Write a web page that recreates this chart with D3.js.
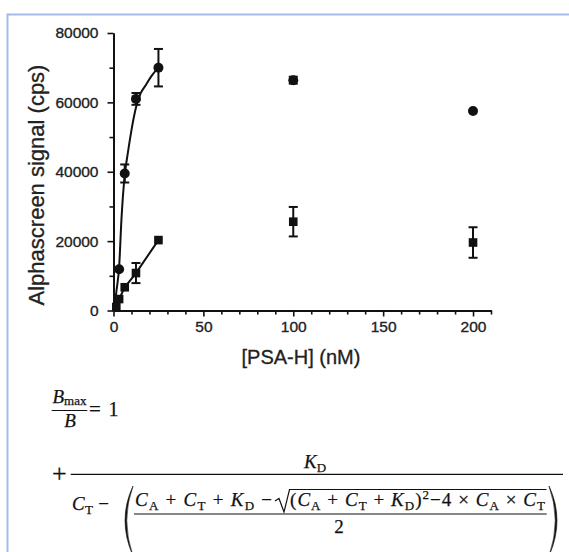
<!DOCTYPE html>
<html>
<head>
<meta charset="utf-8">
<script src="https://cdn.jsdelivr.net/npm/d3@7"></script>
<style>
  body { margin: 0; background: #fff; }
  svg { display: block; }
</style>
</head>
<body>
<svg id="chart" width="569" height="552"></svg>
<script>
// ---------------- DATA ----------------
// circles: fitted series
const doseA = [3.125, 6.25, 12.5, 25, 100, 200];
const signalA = [11900, 39500, 61000, 70000, 66400, 57500];
const errA = [0, 2600, 1700, 5400, 1000, 0];

// squares: connected series
const doseB = [1.56, 3.125, 6.25, 12.5, 25, 100, 200];
const signalB = [1000, 3300, 6700, 10800, 20300, 25600, 19600];
const errB = [0, 0, 0, 2900, 0, 4250, 4400];
const lineEndB = 25; // line only joins points up to 25 nM

// fitted curve
const fitDose = [0.6, 1.5, 3.125, 4.5, 6.25, 8, 10, 12.5, 15, 18, 21, 25];
const fitSignal = [0, 5000, 12500, 27000, 39000, 45500, 52000, 58500, 62500, 65000, 67500, 70000];

const xMajor = [0, 50, 100, 150, 200];
const yMajor = [0, 20000, 40000, 60000, 80000];

const svg = d3.select("#chart");

// light blue frame
svg.append("path")
  .attr("d", "M7.5,552 L7.5,14.5 L569,14.5")
  .attr("fill", "none")
  .attr("stroke", "#a3bbe8")
  .attr("stroke-width", 2);

// ---------------- SCALES ----------------
const x = d3.scaleLinear().domain([0, 210]).range([113.5, 491]);
const y = d3.scaleLinear().domain([0, 80000]).range([310.5, 33]);

const plot = svg.append("g");

// ---------------- AXES ----------------
const minorX = d3.range(10, 211, 10).filter(v => v % 50 !== 0);
const minorY = [10000, 30000, 50000, 70000];

function styleAxis(g) {
  g.select(".domain").attr("stroke", "#111").attr("stroke-width", 2);
  g.selectAll(".tick line").attr("stroke", "#111").attr("stroke-width", 1.6);
  g.selectAll(".tick text")
    .attr("fill", "#222")
    .attr("stroke", "#222")
    .attr("stroke-width", 0.35)
    .style("font-family", "'Liberation Sans', Arial, sans-serif")
    .style("font-size", "15.5px");
}

plot.append("g")
  .attr("transform", "translate(0,310.5)")
  .call(d3.axisBottom(x).tickValues(minorX).tickSize(4).tickFormat("").tickSizeOuter(0))
  .call(styleAxis);
plot.append("g")
  .attr("transform", "translate(0,310.5)")
  .call(d3.axisBottom(x).tickValues(xMajor).tickSize(6).tickPadding(4.5).tickSizeOuter(0))
  .call(styleAxis);

plot.append("g")
  .attr("transform", "translate(113.5,0)")
  .call(d3.axisLeft(y).tickValues(minorY).tickSize(4).tickFormat("").tickSizeOuter(0))
  .call(styleAxis);
plot.append("g")
  .attr("transform", "translate(113.5,0)")
  .call(d3.axisLeft(y).tickValues(yMajor).tickSize(6).tickPadding(9).tickFormat(d3.format("d")).tickSizeOuter(0))
  .call(styleAxis);

// axis titles
svg.append("text")
  .attr("transform", "translate(43.5,185) rotate(-90)")
  .attr("text-anchor", "middle")
  .attr("fill", "#222")
  .attr("stroke", "#222")
  .attr("stroke-width", 0.3)
  .style("font-family", "'Liberation Sans', Arial, sans-serif")
  .style("font-size", "22px")
  .text("Alphascreen signal (cps)");

svg.append("text")
  .attr("x", 301)
  .attr("y", 364)
  .attr("text-anchor", "middle")
  .attr("fill", "#222")
  .attr("stroke", "#222")
  .attr("stroke-width", 0.3)
  .style("font-family", "'Liberation Sans', Arial, sans-serif")
  .style("font-size", "20px")
  .text("[PSA-H] (nM)");

// ---------------- LINES ----------------
const fitLine = d3.line()
  .x(d => x(d[0]))
  .y(d => y(d[1]))
  .curve(d3.curveMonotoneX);

plot.append("path")
  .datum(d3.zip(fitDose, fitSignal))
  .attr("d", fitLine)
  .attr("fill", "none")
  .attr("stroke", "#111")
  .attr("stroke-width", 2);

const segLine = d3.line().x(d => x(d[0])).y(d => y(d[1]));
plot.append("path")
  .datum(d3.zip(doseB, signalB).filter(d => d[0] <= lineEndB))
  .attr("d", segLine)
  .attr("fill", "none")
  .attr("stroke", "#111")
  .attr("stroke-width", 2);

// ---------------- ERROR BARS ----------------
function errorBars(doses, values, errs) {
  const rows = d3.zip(doses, values, errs).filter(d => d[2] > 0);
  const g = plot.append("g").attr("stroke", "#111").attr("stroke-width", 2);
  rows.forEach(d => {
    const cx = x(d[0]);
    const top = y(d[1] + d[2]);
    const bot = y(d[1] - d[2]);
    g.append("line").attr("x1", cx).attr("x2", cx).attr("y1", top).attr("y2", bot);
    g.append("line").attr("x1", cx - 4.5).attr("x2", cx + 4.5).attr("y1", top).attr("y2", top);
    g.append("line").attr("x1", cx - 4.5).attr("x2", cx + 4.5).attr("y1", bot).attr("y2", bot);
  });
}
errorBars(doseA, signalA, errA);
errorBars(doseB, signalB, errB);

// ---------------- MARKERS ----------------
plot.append("g")
  .selectAll("circle")
  .data(d3.zip(doseA, signalA))
  .join("circle")
  .attr("cx", d => x(d[0]))
  .attr("cy", d => y(d[1]))
  .attr("r", 5)
  .attr("fill", "#111");

plot.append("g")
  .selectAll("rect")
  .data(d3.zip(doseB, signalB))
  .join("rect")
  .attr("x", d => x(d[0]) - 4.3)
  .attr("y", d => y(d[1]) - 4.3)
  .attr("width", 8.6)
  .attr("height", 8.6)
  .attr("fill", "#111");

// ---------------- EQUATION ----------------
const eq = svg.append("g")
  .attr("fill", "#111")
  .attr("stroke", "#111")
  .attr("stroke-width", 0.25)
  .style("font-family", "'Liberation Serif', 'Times New Roman', serif")
  .style("font-size", "19px");

// write a run of math: [text, kind] with kind i = italic, s = subscript, p = superscript
function mathText(parent, px, py, parts, opts = {}) {
  const t = parent.append("text").attr("x", px).attr("y", py);
  if (opts.anchor) t.attr("text-anchor", opts.anchor);
  if (opts.size) t.style("font-size", opts.size);
  const subDrop = opts.subDrop || 4;
  let shift = 0;
  parts.forEach(([str, kind]) => {
    const span = t.append("tspan").text(str);
    let want = 0;
    if (kind === "s") want = subDrop;
    if (kind === "p") want = -7;
    span.attr("dy", want - shift);
    shift = want;
    if (kind === "i") span.style("font-style", "italic");
    if (kind === "s" || kind === "p") span.style("font-size", "13px");
  });
  if (opts.width) t.attr("textLength", opts.width).attr("lengthAdjust", "spacing");
  return t;
}

function rule(x1, x2, yy) {
  eq.append("line").attr("x1", x1).attr("x2", x2).attr("y1", yy).attr("y2", yy)
    .attr("stroke", "#111").attr("stroke-width", 1.2);
}

// Bmax / B = 1
mathText(eq, 69.5, 403, [["B", "i"], ["max", "s"]], { anchor: "middle", subDrop: 2 });
rule(51.7, 87.3, 410.5);
mathText(eq, 70, 427, [["B", "i"]], { anchor: "middle" });
mathText(eq, 89, 416, [["=", ""]], { size: "21px" });
mathText(eq, 108.5, 416, [["1", ""]], { size: "20px" });

// + KD / (...)
mathText(eq, 52, 482, [["+", ""]], { size: "26px" });
rule(70.7, 563, 474.3);
mathText(eq, 315, 468, [["K", "i"], ["D", "s"]], { anchor: "middle" });

mathText(eq, 72, 510, [["C", "i"], ["T", "s"], [" \u2212", ""]], { width: 37 });

mathText(eq, 135, 506, [
  ["C", "i"], ["A", "s"], [" + ", ""], ["C", "i"], ["T", "s"], [" + ", ""],
  ["K", "i"], ["D", "s"], [" \u2212", ""]
], { width: 137 });

mathText(eq, 290, 506, [
  ["(", ""], ["C", "i"], ["A", "s"], [" + ", ""], ["C", "i"], ["T", "s"], [" + ", ""],
  ["K", "i"], ["D", "s"], [")", ""], ["2", "p"], ["\u22124 \u00d7 ", ""],
  ["C", "i"], ["A", "s"], [" \u00d7 ", ""], ["C", "i"], ["T", "s"]
], { width: 255 });

// radical sign
eq.append("path")
  .attr("d", "M275,501 L279,498.5 L284,512 L289.5,489.5 L546.5,489.5")
  .attr("fill", "none")
  .attr("stroke", "#111")
  .attr("stroke-width", 1.2);

rule(134, 546.7, 514);
mathText(eq, 339, 533, [["2", ""]], { anchor: "middle" });

// big parentheses
eq.append("path")
  .attr("d", "M133,486 Q117,520 133,556 Q120.5,520 133,486 Z")
  .attr("stroke-width", 0.6);
eq.append("path")
  .attr("d", "M549,486 Q565,520 549,556 Q561.5,520 549,486 Z")
  .attr("stroke-width", 0.6);
</script>
</body>
</html>
